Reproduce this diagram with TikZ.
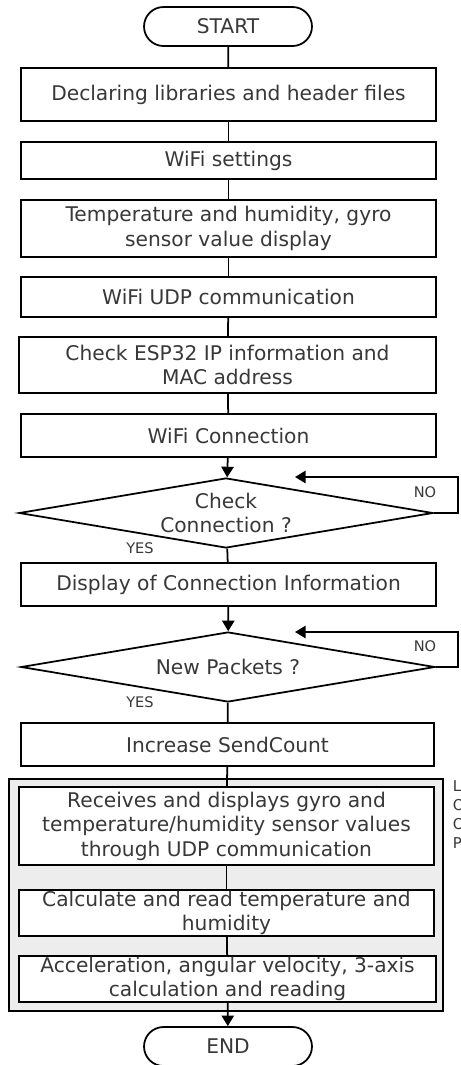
\documentclass[tikz,border=0pt]{standalone}
\usepackage{fontspec}
\setmainfont{DejaVu Sans}
\usetikzlibrary{shapes.geometric,shapes.misc,arrows.meta}

\begin{document}
\begin{tikzpicture}[x=0.02cm,y=-0.02cm,line width=1pt,
  font=\fontsize{11.5}{13.9}\selectfont,
  txt/.style={text=black!78},
  proc/.style={draw,fill=white,rectangle,txt,inner sep=0pt,minimum width=8.3cm,align=center},
  term/.style={draw,fill=white,rounded rectangle,txt,inner sep=0pt,minimum width=3.36cm,minimum height=.78cm},
  dec/.style={draw,fill=white,diamond,aspect=5.9,txt,inner sep=0pt,minimum width=8.28cm,minimum height=1.4cm,align=center},
  yn/.style={txt,inner sep=0pt,font=\fontsize{8.3}{10}\selectfont},
  arr/.style={-{Triangle[length=6pt,width=7pt]}}]
\useasboundingbox (0,0) rectangle (460,1065);
\node[term] (start) at (228,26.5) {START};
\node[proc,minimum height=1.06cm] (libs) at (228.5,94.5) {Declaring libraries and header files};
\node[proc,minimum height=.74cm] (wset) at (228.5,160.5) {WiFi settings};
\node[proc,minimum height=1.14cm] (sens) at (228.5,228.5) {Temperature and humidity, gyro\\sensor value display};
\node[proc,minimum height=.8cm] (udp) at (228.5,297) {WiFi UDP communication};
\node[proc,minimum height=1.12cm,minimum width=8.34cm] (ipmac) at (227.5,365) {Check ESP32 IP information and\\MAC address};
\node[proc,minimum height=.86cm] (wcon) at (228.5,435.5) {WiFi Connection};
\node[dec] (chk) at (226,513) {Check\\Connection ?};
\node[proc,minimum height=.86cm] (info) at (228.5,584.5) {Display of Connection Information};
\node[dec] (pkt) at (228,667) {New Packets ?};
\node[proc,minimum height=.86cm,minimum width=8.26cm] (cnt) at (227.5,744.5) {Increase SendCount};
% loop part
\node[draw,fill=black!7,rectangle,minimum width=8.68cm,minimum height=4.64cm] (loop) at (226,895) {};
\node[proc,minimum height=1.56cm] (recv) at (226.5,826) {Receives and displays gyro and\\temperature/humidity sensor values\\through UDP communication};
\node[proc,minimum height=.92cm] (temp) at (226.5,913) {Calculate and read temperature and\\humidity};
\node[proc,minimum height=.92cm,minimum width=8.34cm] (acc) at (227.5,979) {Acceleration, angular velocity, 3-axis\\calculation and reading};
\node[term] (end) at (228,1046.5) {END};
\node[txt,anchor=north west,inner sep=0pt,align=left,font=\fontsize{8.5}{10.8}\selectfont] (cut) at (452,780) {L\\O\\O\\P};
% labels
\node[yn] (no1) at (425,492) {NO};
\node[yn] (yes1) at (140,548) {YES};
\node[yn] (no2) at (425,646) {NO};
\node[yn] (yes2) at (140,702) {YES};
\coordinate (back1) at (295,477);
\coordinate (back2) at (295,632);
% connectors
\draw (start) -- (libs);
\draw (libs) -- (wset);
\draw (wset) -- (sens);
\draw (sens) -- (udp);
\draw (udp) -- (ipmac);
\draw (ipmac) -- (wcon);
\draw[arr] (wcon) -- (chk);
\draw[arr] (chk.east) -- ++(24,0) |- (back1);
\draw (chk) -- (info);
\draw[arr] (info) -- (pkt);
\draw[arr] (pkt.east) -- ++(22,0) |- (back2);
\draw (pkt) -- (cnt);
\draw (cnt) -- (recv);
\draw (recv) -- (temp);
\draw (temp) -- (acc);
\draw[arr] (acc) -- (end);
\end{tikzpicture}
\end{document}
